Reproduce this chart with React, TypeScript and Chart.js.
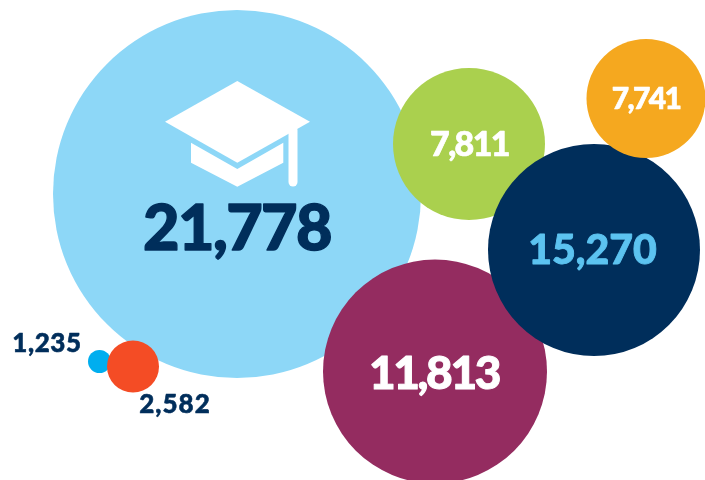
import React, { useEffect, useRef } from "react";
import { Chart, registerables } from "chart.js";

Chart.register(...registerables);

// Draw order: back to front
const values = [21778, 1235, 2582, 7811, 11813, 15270, 7741];
const bubbleX = [237, 99.5, 133, 469, 435, 594, 646];
const bubbleY = [194, 361.5, 366.5, 144, 371.5, 250, 98.5];
const bubbleR = [184, 11.5, 26, 76, 112, 106, 59.5];
const colors = ["#8dd7f7", "#00aeef", "#f44c25", "#aad04e", "#942c60", "#002e5b", "#f5a81f"];
const labelColors = ["#002e5b", "#002e5b", "#002e5b", "#ffffff", "#ffffff", "#5cc3f0", "#ffffff"];
const labelSizes = [63, 26, 26, 34, 46, 41, 30];
const labelTracking = [-1.6, 0.6, 1, -1.6, -2.4, 0, -1.6];
const labelX = [237, 47, 175, 469.5, 434, 592.5, 646];
const labelY = [230, 344, 405, 145, 374, 251, 99];

const labelPlugin = {
  id: "bubbleLabels",
  afterDatasetsDraw(chart: any) {
    const { ctx, scales } = chart;
    const ox = scales.x.getPixelForValue(bubbleX[0]);
    const oy = scales.y.getPixelForValue(bubbleY[0]);
    ctx.save();
    // graduation cap icon, placed relative to the main bubble
    ctx.fillStyle = "#ffffff";
    ctx.beginPath();
    ctx.moveTo(ox + 0.3, oy - 113);
    ctx.lineTo(ox + 73, oy - 72.3);
    ctx.lineTo(ox + 0.3, oy - 31.3);
    ctx.lineTo(ox - 72, oy - 72.3);
    ctx.closePath();
    ctx.fill();
    ctx.beginPath();
    ctx.moveTo(ox - 46, oy - 51.3);
    ctx.lineTo(ox + 0.3, oy - 25);
    ctx.lineTo(ox + 46.3, oy - 51.3);
    ctx.lineTo(ox + 46.3, oy - 31.3);
    ctx.lineTo(ox + 0.3, oy - 7.3);
    ctx.lineTo(ox - 46, oy - 31.3);
    ctx.closePath();
    ctx.fill();
    ctx.strokeStyle = "#ffffff";
    ctx.lineWidth = 9;
    ctx.lineCap = "round";
    ctx.beginPath();
    ctx.moveTo(ox + 56, oy - 64);
    ctx.lineTo(ox + 56, oy - 12);
    ctx.stroke();

    ctx.textAlign = "center";
    ctx.textBaseline = "middle";
    ctx.lineJoin = "round";
    values.forEach((v, i) => {
      ctx.font = `900 ${labelSizes[i]}px Lato`;
      (ctx as any).letterSpacing = `${labelTracking[i]}px`;
      ctx.fillStyle = labelColors[i];
      ctx.strokeStyle = labelColors[i];
      ctx.lineWidth = Math.max(0.5, labelSizes[i] * 0.022);
      const text = v.toLocaleString("en-US");
      const px = scales.x.getPixelForValue(labelX[i]);
      const py = scales.y.getPixelForValue(labelY[i]);
      ctx.fillText(text, px, py);
      ctx.strokeText(text, px, py);
    });
    ctx.restore();
  },
};

export default function App() {
  const ref = useRef<HTMLCanvasElement>(null);
  useEffect(() => {
    const chart = new Chart(ref.current!, {
      type: "bubble",
      data: {
        datasets: [
          {
            data: values.map((_, i) => ({ x: bubbleX[i], y: bubbleY[i], r: bubbleR[i] })),
            backgroundColor: colors,
            borderWidth: 0,
            hoverBorderWidth: 0,
            clip: false,
          } as any,
        ],
      },
      options: {
        animation: false,
        responsive: false,
        layout: { padding: 0, autoPadding: false },
        plugins: { legend: { display: false }, tooltip: { enabled: false } },
        scales: {
          x: { type: "linear", min: 0, max: 705, display: false },
          y: { type: "linear", min: 0, max: 480, reverse: true, display: false },
        },
      },
      plugins: [labelPlugin],
    });
    return () => chart.destroy();
  }, []);
  return (
    <div style={{ position: "absolute", left: 0, top: 0, width: 705, height: 480 }}>
      <canvas ref={ref} width={705} height={480} style={{ display: "block" }} />
    </div>
  );
}
